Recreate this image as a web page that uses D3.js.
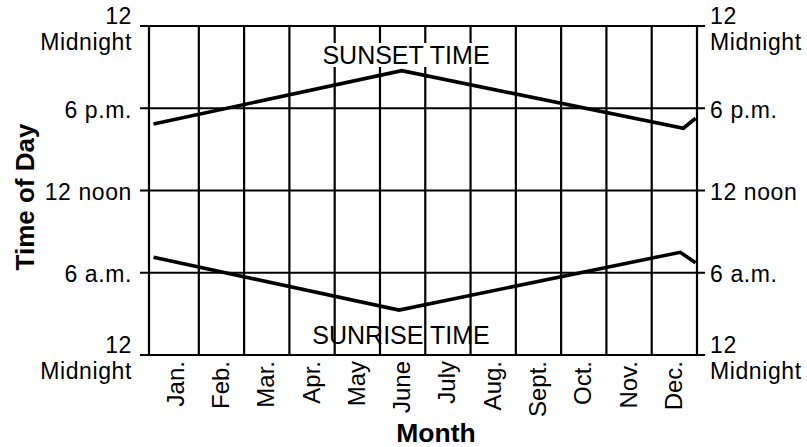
<!DOCTYPE html>
<html>
<head>
<meta charset="utf-8">
<script src="https://cdn.jsdelivr.net/npm/d3@7"></script>
<style>
  html, body { margin: 0; padding: 0; background: #fff; }
  svg { display: block; }
  text { font-family: "Liberation Sans", Arial, Helvetica, sans-serif; fill: #000; }
</style>
</head>
<body>
<svg id="chart" width="807" height="447"></svg>
<script>
// ---- data ----
const months = ["Jan.", "Feb.", "Mar.", "Apr.", "May", "June", "July", "Aug.", "Sept.", "Oct.", "Nov.", "Dec."];
const hourTicks = [0, 6, 12, 18, 24];
const tickLabels = [["12", "Midnight"], ["6 a.m."], ["12 noon"], ["6 p.m."], ["12", "Midnight"]];
// [month position (0 = start of Jan, 12 = end of Dec), hour of day]
const sunsetMonth = [0, 5.48, 11.70, 11.97];
const sunsetHour  = [16.85, 20.74, 16.54, 17.27];
const sunriseMonth = [0, 5.42, 11.63, 11.97];
const sunriseHour  = [7.13, 3.28, 7.49, 6.73];

// ---- layout ----
const svg = d3.select("#chart");
const x = d3.scaleLinear().domain([-0.1, 12]).range([149, 697]);
const y = d3.scaleLinear().domain([0, 24]).range([355, 26]);
const left = x(-0.1), right = x(12);

const g = svg.append("g");

// horizontal grid lines with tick stubs on both sides
g.selectAll("line.h").data(hourTicks).join("line")
  .attr("x1", left - 9).attr("x2", right + 8)
  .attr("y1", d => y(d)).attr("y2", d => y(d))
  .attr("stroke", "#000").attr("stroke-width", 2.2);

// vertical lines: left frame + month boundaries
const vlines = [-0.1].concat(d3.range(1, 13));
g.selectAll("line.v").data(vlines).join("line")
  .attr("x1", d => x(d)).attr("x2", d => x(d))
  .attr("y1", y(24)).attr("y2", y(0))
  .attr("stroke", "#000").attr("stroke-width", 2.2);

// curve labels
const sunsetLbl = svg.append("g");
const sst = sunsetLbl.append("text")
  .attr("x", 406).attr("y", 63.5)
  .attr("text-anchor", "middle")
  .style("font-size", "25px")
  .text("SUNSET TIME");
const bb = sst.node().getBBox();
sunsetLbl.insert("rect", "text")
  .attr("x", bb.x - 2).attr("y", y(24) + 17).attr("width", bb.width + 4).attr("height", 24)
  .attr("fill", "#fff");

svg.append("text")
  .attr("x", 401).attr("y", 344)
  .attr("text-anchor", "middle")
  .style("font-size", "25px")
  .text("SUNRISE TIME");

// curves
const line = d3.line().x(d => x(d[0])).y(d => y(d[1]));
const sunset = sunsetMonth.map((m, i) => [m, sunsetHour[i]]);
const sunrise = sunriseMonth.map((m, i) => [m, sunriseHour[i]]);
[sunset, sunrise].forEach(s => {
  svg.append("path").datum(s)
    .attr("d", line)
    .attr("fill", "none")
    .attr("stroke", "#000")
    .attr("stroke-width", 3.6)
    .attr("stroke-linejoin", "miter");
});

// y tick labels, both sides
function tickText(sel, anchor, xpos) {
  hourTicks.forEach((h, i) => {
    const lbl = tickLabels[i];
    if (lbl.length === 2) {
      sel.append("text").attr("x", xpos).attr("y", y(h) - 2)
        .attr("text-anchor", anchor).style("font-size", "23px")
        .style("letter-spacing", "0.6px").text(lbl[0]);
      sel.append("text").attr("x", xpos).attr("y", y(h) + 23.8)
        .attr("text-anchor", anchor).style("font-size", "23px")
        .style("letter-spacing", "0.6px").text(lbl[1]);
    } else {
      sel.append("text").attr("x", xpos).attr("y", y(h) + 9.5)
        .attr("text-anchor", anchor).style("font-size", "23px")
        .style("letter-spacing", "0.6px").text(lbl[0]);
    }
  });
}
tickText(svg.append("g"), "end", 132);
tickText(svg.append("g"), "start", 710);

// month labels, rotated
svg.append("g").selectAll("text").data(months).join("text")
  .attr("transform", (d, i) => `translate(${(x(i) + x(i + 1)) / 2 - 1 + 8.5},361) rotate(-90)`)
  .attr("text-anchor", "end")
  .style("font-size", "24px")
  .text(d => d);

// axis titles
svg.append("text")
  .attr("transform", "translate(34,197) rotate(-90)")
  .attr("text-anchor", "middle")
  .style("font-size", "26px").style("font-weight", "bold")
  .text("Time of Day");
svg.append("text")
  .attr("x", 436).attr("y", 442)
  .attr("text-anchor", "middle")
  .style("font-size", "26.5px").style("font-weight", "bold")
  .text("Month");
</script>
</body>
</html>
